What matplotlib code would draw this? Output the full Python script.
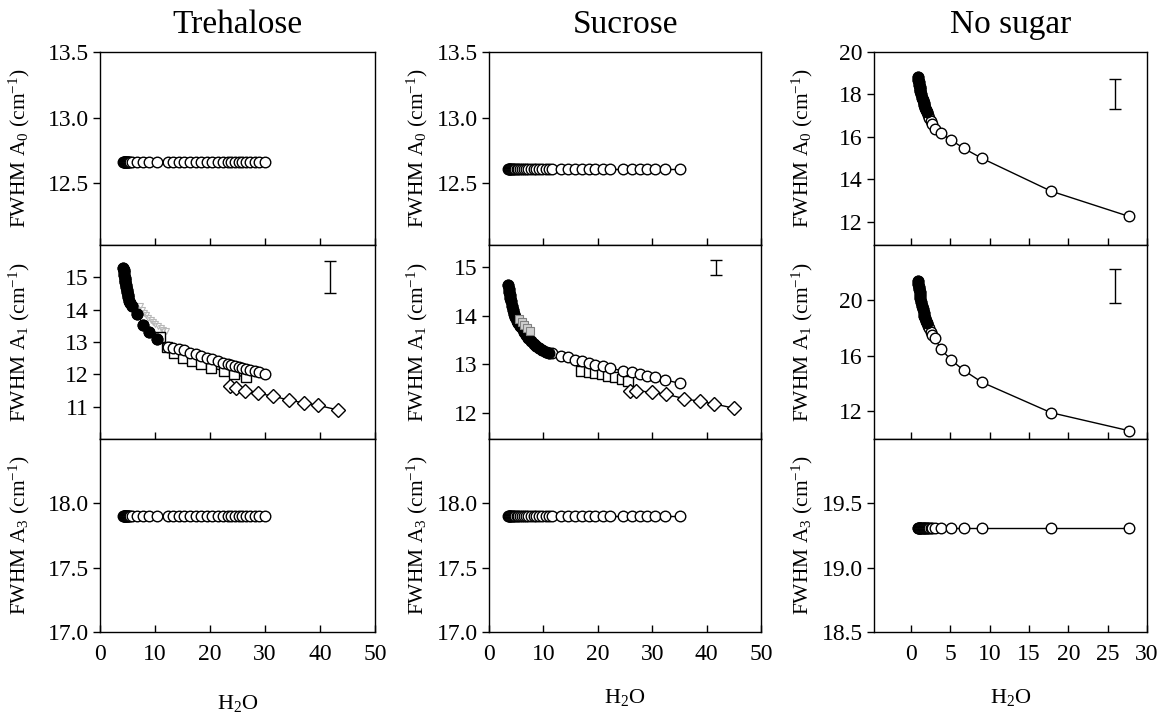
import matplotlib
matplotlib.use("Agg")
import matplotlib.pyplot as plt
import numpy as np

plt.rcParams['font.family'] = ['Liberation Serif', 'DejaVu Serif']
plt.rcParams['mathtext.default'] = 'regular'

# ---------------- Trehalose ----------------
tre_head_x = [4.24, 4.3, 4.36, 4.42, 4.48, 4.55, 4.62, 4.7, 4.78, 4.86, 4.95, 5.05, 5.15, 5.3, 5.45]
tre_head_a1 = [15.29, 15.22, 15.15, 15.07, 14.99, 14.92, 14.85, 14.77, 14.7, 14.62, 14.54, 14.46, 14.38, 14.28, 14.2]
tre_circ_x = [5.76, 6.79, 7.88, 8.91, 10.3, 12.3, 13.3, 14.4, 15.3, 16.4, 17.4, 18.4, 19.4, 20.4, 21.4,
              22.4, 23.2, 23.9, 24.5, 25.2, 25.8, 26.5, 27.3, 28.1, 28.9, 30.0]
tre_circ_a1 = [14.1, 13.87, 13.52, 13.32, 13.1, 12.86, 12.82, 12.78, 12.74, 12.67, 12.62, 12.56, 12.51, 12.46, 12.4,
               12.35, 12.32, 12.28, 12.26, 12.23, 12.2, 12.17, 12.13, 12.1, 12.06, 12.0]
tre_a0 = 12.66
tre_a3 = 17.9
tre_gray_x = [7.3, 7.6, 8.0, 8.4, 8.8, 9.2, 9.6, 10.0, 10.5, 11.0, 11.5, 12.0]
tre_gray_a1 = [14.1, 14.0, 13.9, 13.82, 13.75, 13.68, 13.62, 13.56, 13.5, 13.44, 13.38, 13.33]
tre_sq_x = [10.9, 12.1, 13.4, 15.0, 16.7, 18.3, 20.1, 22.5, 24.4, 26.5]
tre_sq_a1 = [13.17, 12.85, 12.65, 12.52, 12.42, 12.32, 12.21, 12.11, 12.0, 11.91]
tre_dia_x = [23.6, 24.8, 26.4, 28.8, 31.4, 34.4, 37.0, 39.7, 43.2]
tre_dia_a1 = [11.64, 11.58, 11.48, 11.41, 11.33, 11.2, 11.12, 11.04, 10.9]
tre_err = (41.8, 14.52, 15.49)

# ---------------- Sucrose ----------------
suc_head_x = [3.5, 3.6, 3.7, 3.8, 3.9, 4.0, 4.2, 4.4, 4.6, 4.8, 5.1, 5.4, 5.7, 6.0, 6.4, 6.8, 7.2, 7.7,
              8.2, 8.7, 9.2, 9.8, 10.4, 11.0]
suc_head_a1 = [14.62, 14.55, 14.48, 14.42, 14.36, 14.3, 14.2, 14.11, 14.03, 13.97, 13.9, 13.84, 13.79, 13.74,
               13.67, 13.6, 13.54, 13.48, 13.42, 13.38, 13.34, 13.3, 13.26, 13.24]
suc_circ_x = [11.5, 13.3, 14.6, 15.9, 17.1, 18.3, 19.5, 20.9, 22.2, 24.7, 26.2, 27.8, 29.1, 30.6, 32.4, 35.2]
suc_circ_a1 = [13.23, 13.18, 13.15, 13.1, 13.06, 13.02, 12.99, 12.96, 12.92, 12.87, 12.84, 12.8, 12.77, 12.74,
               12.68, 12.61]
suc_a0 = 12.61
suc_a3 = 17.9
suc_gray_x = [5.5, 6.0, 6.5, 7.0, 7.6]
suc_gray_a1 = [13.93, 13.87, 13.8, 13.74, 13.68]
suc_sq_x = [17.0, 18.3, 19.5, 20.7, 21.9, 23.2, 24.4, 25.6]
suc_sq_a1 = [12.87, 12.84, 12.82, 12.8, 12.77, 12.74, 12.7, 12.65]
suc_dia_x = [26.0, 27.1, 29.9, 32.5, 35.8, 38.8, 41.4, 45.1]
suc_dia_a1 = [12.46, 12.46, 12.43, 12.39, 12.3, 12.24, 12.19, 12.1]
suc_err = (41.8, 14.83, 15.14)

# ---------------- No sugar ----------------
ns_head_x = [0.93, 0.95, 1.0, 1.05, 1.1, 1.15, 1.2, 1.3, 1.4, 1.5, 1.6, 1.7, 1.8, 1.9, 2.0, 2.15, 2.3, 2.5, 2.7]
ns_head_a0 = [18.8, 18.7, 18.6, 18.45, 18.35, 18.25, 18.15, 18.0, 17.85, 17.72, 17.6, 17.48, 17.37, 17.27,
              17.18, 17.03, 16.9, 16.75, 16.6]
ns_head_a1 = [21.4, 21.2, 21.0, 20.8, 20.6, 20.4, 20.2, 19.9, 19.6, 19.35, 19.1, 18.9, 18.7, 18.5, 18.35,
              18.15, 18.0, 17.75, 17.5]
ns_circ_x = [3.0, 3.8, 5.1, 6.7, 9.0, 17.8, 27.7]
ns_circ_a0 = [16.39, 16.17, 15.85, 15.46, 14.99, 13.44, 12.25]
ns_circ_a1 = [17.3, 16.5, 15.7, 14.96, 14.1, 11.9, 10.6]
ns_a3 = 19.31
ns_err_a0 = (25.9, 17.33, 18.71)
ns_err_a1 = (25.9, 19.85, 22.28)

titles = ["Trehalose", "Sucrose", "No sugar"]
ylabels = ["FWHM A$_0$ (cm$^{-1}$)", "FWHM A$_1$ (cm$^{-1}$)", "FWHM A$_3$ (cm$^{-1}$)"]

fig = plt.figure(figsize=(11.6, 7.2), dpi=100)
W, H = 1160.0, 720.0
col_px = [(100, 375), (489, 761), (874, 1147)]
row_px = [(52, 245), (245, 439), (439, 632)]
lab_x = [-0.247, -0.217, -0.216]

axes = [[None] * 3 for _ in range(3)]
for c, (x0, x1) in enumerate(col_px):
    for r, (y0, y1) in enumerate(row_px):
        ax = fig.add_axes([x0 / W, 1 - y1 / H, (x1 - x0) / W, (y1 - y0) / H])
        axes[r][c] = ax
        ax.tick_params(axis='x', direction='in', length=5, width=1, labelsize=17, pad=9)
        ax.tick_params(axis='y', direction='out', length=5, width=1, labelsize=17, pad=3)
        for s in ax.spines.values():
            s.set_linewidth(1.0)
        ax.set_ylabel(ylabels[r], fontsize=15.5)
        ax.yaxis.set_label_coords(lab_x[c], 0.5)
        if r < 2:
            ax.tick_params(axis='x', labelbottom=False)

ms_c = 7.6
kw_open = dict(marker='o', ms=ms_c, mfc='white', mec='black', mew=1.0, color='black', lw=1.0)
kw_fill = dict(marker='o', ms=ms_c, mfc='black', mec='black', mew=1.0, ls='none')
kw_sq = dict(marker='s', ms=7.8, mfc='white', mec='black', mew=1.0, color='black', lw=1.0)
kw_dia = dict(marker='D', ms=6.8, mfc='white', mec='black', mew=1.0, color='black', lw=1.0)

def err(ax, e):
    xc, lo, hi = e
    ax.errorbar([xc], [(lo + hi) / 2], yerr=[[(hi - lo) / 2], [(hi - lo) / 2]], fmt='none',
                ecolor='black', elinewidth=1.0, capsize=4, capthick=1.0)

# Trehalose
tx = tre_head_x + tre_circ_x
ax = axes[0][0]
ax.plot(tx, [tre_a0] * len(tx), **kw_open)
ax = axes[1][0]
ax.plot(tre_gray_x, tre_gray_a1, marker='v', ms=5, mfc='none', mec='#b8b8b8', mew=0.8, ls='none')
ax.plot(tre_sq_x, tre_sq_a1, **kw_sq)
ax.plot(tre_dia_x, tre_dia_a1, **kw_dia)
ax.plot(tx, tre_head_a1 + tre_circ_a1, **kw_open)
ax.plot(tx[:len(tre_head_x) + 5], (tre_head_a1 + tre_circ_a1)[:len(tre_head_x) + 5], **kw_fill)
err(ax, tre_err)
ax = axes[2][0]
ax.plot(tx, [tre_a3] * len(tx), **kw_open)

# Sucrose
sx = suc_head_x + suc_circ_x
ax = axes[0][1]
ax.plot(sx, [suc_a0] * len(sx), **kw_open)
ax = axes[1][1]
ax.plot(suc_sq_x, suc_sq_a1, **kw_sq)
ax.plot(suc_dia_x, suc_dia_a1, **kw_dia)
ax.plot(sx, suc_head_a1 + suc_circ_a1, **kw_open)
ax.plot(suc_head_x, suc_head_a1, **kw_fill)
ax.plot(suc_gray_x, suc_gray_a1, marker='s', ms=6, mfc='#d0d0d0', mec='#808080', mew=0.8, ls='none')
err(ax, suc_err)
ax = axes[2][1]
ax.plot(sx, [suc_a3] * len(sx), **kw_open)

# No sugar
nx = ns_head_x + ns_circ_x
nh = len(ns_head_x) - 4
ax = axes[0][2]
ax.plot(nx, ns_head_a0 + ns_circ_a0, **kw_open)
ax.plot(ns_head_x[:nh], ns_head_a0[:nh], **kw_fill)
err(ax, ns_err_a0)
ax = axes[1][2]
ax.plot(nx, ns_head_a1 + ns_circ_a1, **kw_open)
ax.plot(ns_head_x[:nh], ns_head_a1[:nh], **kw_fill)
err(ax, ns_err_a1)
ax = axes[2][2]
ax.plot(nx, [ns_a3] * len(nx), **kw_open)

# Limits and ticks
for c in range(2):
    for r in range(3):
        axes[r][c].set_xlim(0, 50)
        axes[r][c].set_xticks([0, 10, 20, 30, 40, 50])
for r in range(3):
    axes[r][2].set_xlim(-4.7, 30)
    axes[r][2].set_xticks([0, 5, 10, 15, 20, 25, 30])

axes[0][0].set_ylim(12.03, 13.5); axes[0][0].set_yticks([12.5, 13.0, 13.5])
axes[1][0].set_ylim(10, 16); axes[1][0].set_yticks([11, 12, 13, 14, 15])
axes[2][0].set_ylim(17, 18.5); axes[2][0].set_yticks([17.0, 17.5, 18.0])
axes[0][1].set_ylim(12.03, 13.5); axes[0][1].set_yticks([12.5, 13.0, 13.5])
axes[1][1].set_ylim(11.47, 15.45); axes[1][1].set_yticks([12, 13, 14, 15])
axes[2][1].set_ylim(17, 18.5); axes[2][1].set_yticks([17.0, 17.5, 18.0])
axes[0][2].set_ylim(10.9, 20); axes[0][2].set_yticks([12, 14, 16, 18, 20])
axes[1][2].set_ylim(10, 24); axes[1][2].set_yticks([12, 16, 20])
axes[2][2].set_ylim(18.5, 20.0); axes[2][2].set_yticks([18.5, 19.0, 19.5])

fmt1 = matplotlib.ticker.FormatStrFormatter('%.1f')
for r in (0, 2):
    for c in range(3):
        if not (r == 0 and c == 2):
            axes[r][c].yaxis.set_major_formatter(fmt1)

for c, (x0, x1) in enumerate(col_px):
    fig.text((x0 + x1) / 2 / W, 1 - 25 / H, titles[c], ha='center', va='center', fontsize=24)
xl_y = [704, 698, 698]
for c, (x0, x1) in enumerate(col_px):
    fig.text((x0 + x1) / 2 / W, 1 - xl_y[c] / H, "H$_2$O", ha='center', va='center', fontsize=16)

fig.savefig("out.png", dpi=100)
